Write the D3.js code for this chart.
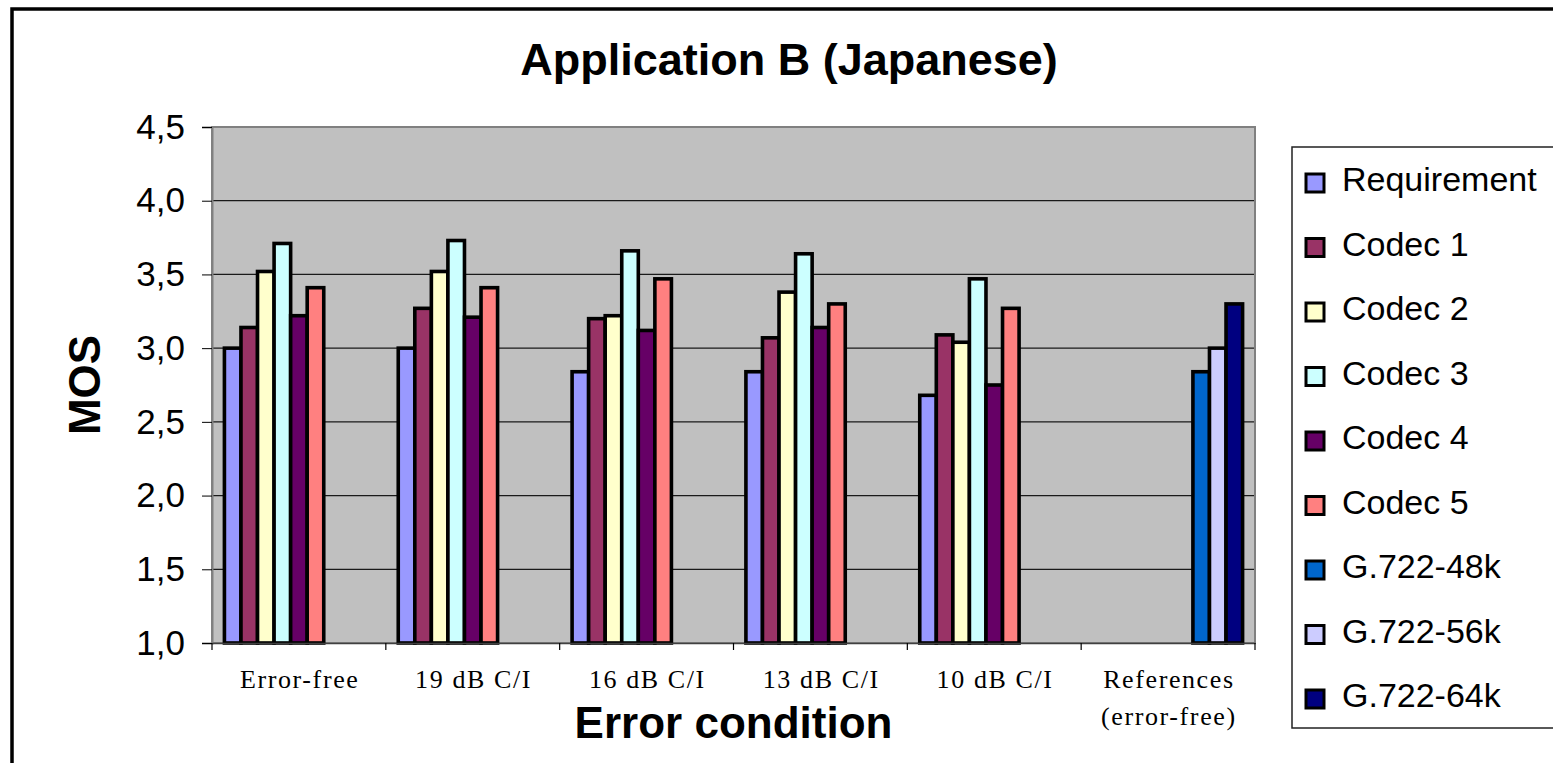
<!DOCTYPE html>
<html>
<head>
<meta charset="utf-8">
<script src="https://cdn.jsdelivr.net/npm/d3@7"></script>
<style>
  html, body { margin: 0; padding: 0; background: #fff; }
  svg { display: block; }
</style>
</head>
<body>
<svg id="chart" width="1553" height="763"></svg>
<script>
// ---- data ----
const categories = ["Error-free", "19 dB C/I", "16 dB C/I", "13 dB C/I", "10 dB C/I", "References\n(error-free)"];
const seriesNames = ["Requirement", "Codec 1", "Codec 2", "Codec 3", "Codec 4", "Codec 5", "G.722-48k", "G.722-56k", "G.722-64k"];
const requirement = [3.00, 3.00, 2.84, 2.84, 2.68, null];
const codec1      = [3.14, 3.27, 3.20, 3.07, 3.09, null];
const codec2      = [3.52, 3.52, 3.22, 3.38, 3.04, null];
const codec3      = [3.71, 3.73, 3.66, 3.64, 3.47, null];
const codec4      = [3.22, 3.21, 3.12, 3.14, 2.75, null];
const codec5      = [3.41, 3.41, 3.47, 3.30, 3.27, null];
const g722_48k    = [null, null, null, null, null, 2.84];
const g722_56k    = [null, null, null, null, null, 3.00];
const g722_64k    = [null, null, null, null, null, 3.30];
const yTicks = [1.0, 1.5, 2.0, 2.5, 3.0, 3.5, 4.0, 4.5];
const seriesColors = ["#9999FF", "#993366", "#FFFFCC", "#CCFFFF", "#660066", "#FF8080", "#0066CC", "#CCCCFF", "#000080"];

const seriesValues = [requirement, codec1, codec2, codec3, codec4, codec5, g722_48k, g722_56k, g722_64k];

// ---- layout ----
const svg = d3.select("#chart");
const plot = { left: 212, top: 127, right: 1255, bottom: 643 };

// outer chart frame (extends beyond the view)
svg.append("rect")
  .attr("x", 12).attr("y", 9).attr("width", 1700).attr("height", 900)
  .attr("fill", "#fff").attr("stroke", "#000").attr("stroke-width", 3.5);

const x0 = d3.scaleBand().domain(categories)
  .range([plot.left, plot.right])
  .paddingInner(1.5 / 10.5).paddingOuter(0.75 / 10.5);
const x1 = d3.scaleBand().domain(seriesNames).range([0, x0.bandwidth()]);
const y = d3.scaleLinear().domain([1.0, 4.5]).range([plot.bottom, plot.top]);
const color = d3.scaleOrdinal().domain(seriesNames).range(seriesColors);

// plot background
svg.append("rect")
  .attr("x", plot.left).attr("y", plot.top)
  .attr("width", plot.right - plot.left).attr("height", plot.bottom - plot.top)
  .attr("fill", "#C0C0C0");

// gridlines
svg.append("g").selectAll("line")
  .data(yTicks.filter(t => t > 1.0 && t < 4.5))
  .join("line")
  .attr("x1", plot.left).attr("x2", plot.right)
  .attr("y1", d => y(d)).attr("y2", d => y(d))
  .attr("stroke", "#1a1a1a").attr("stroke-width", 1.2);

// plot border
svg.append("rect")
  .attr("x", plot.left).attr("y", plot.top)
  .attr("width", plot.right - plot.left).attr("height", plot.bottom - plot.top)
  .attr("fill", "none").attr("stroke", "#808080").attr("stroke-width", 2);

// bars
const groups = svg.append("g").selectAll("g")
  .data(categories)
  .join("g")
  .attr("transform", c => `translate(${x0(c)},0)`);

groups.selectAll("rect")
  .data((c, ci) => seriesNames.map((s, si) => ({ s, v: seriesValues[si][ci] })).filter(d => d.v != null))
  .join("rect")
  .attr("x", d => x1(d.s))
  .attr("width", x1.bandwidth())
  .attr("y", d => y(d.v))
  .attr("height", d => y(1.0) - y(d.v))
  .attr("fill", d => color(d.s))
  .attr("stroke", "#000").attr("stroke-width", 3.6)
  .attr("stroke-linejoin", "miter");

// y axis
const yAxis = svg.append("g")
  .attr("transform", `translate(${plot.left},0)`)
  .call(d3.axisLeft(y).tickValues(yTicks).tickSize(10).tickPadding(17)
    .tickFormat(d => d.toFixed(1).replace(".", ",")));
yAxis.select(".domain").attr("stroke", "#808080").attr("stroke-width", 2);
yAxis.selectAll(".tick line").attr("stroke", "#000");
yAxis.selectAll(".tick text")
  .attr("font-family", "Liberation Sans, Arial, sans-serif")
  .attr("font-size", 35).attr("fill", "#000");

// x axis (labels centered, ticks at category boundaries)
const xAxis = svg.append("g")
  .attr("transform", `translate(0,${plot.bottom})`)
  .call(d3.axisBottom(x0).tickSize(0).tickPadding(0).tickFormat(""));
xAxis.select(".domain").attr("stroke", "#404040").attr("stroke-width", 1.5);
xAxis.selectAll(".tick").each(function(c) {
  const lines = c.split("\n");
  const t = d3.select(this).append("text")
    .attr("font-family", "Liberation Serif, Times New Roman, serif")
    .attr("font-size", 26).attr("fill", "#000")
    .attr("letter-spacing", 1.6)
    .attr("text-anchor", "middle");
  lines.forEach((ln, i) => {
    t.append("tspan").attr("x", 0.8).attr("y", 45 + i * 37).text(ln);
  });
});
svg.append("g").selectAll("line")
  .data(d3.range(categories.length + 1))
  .join("line")
  .attr("x1", i => plot.left + i * x0.step())
  .attr("x2", i => plot.left + i * x0.step())
  .attr("y1", plot.bottom).attr("y2", plot.bottom + 7)
  .attr("stroke", "#000").attr("stroke-width", 1.2);

// titles
svg.append("text")
  .attr("x", 789).attr("y", 75)
  .attr("text-anchor", "middle")
  .attr("font-family", "Liberation Sans, Arial, sans-serif")
  .attr("font-weight", "bold").attr("font-size", 45)
  .text("Application B (Japanese)");

svg.append("text")
  .attr("x", (plot.left + plot.right) / 2).attr("y", 738)
  .attr("text-anchor", "middle")
  .attr("font-family", "Liberation Sans, Arial, sans-serif")
  .attr("font-weight", "bold").attr("font-size", 44)
  .text("Error condition");

svg.append("text")
  .attr("transform", `translate(100,${(plot.top + plot.bottom) / 2}) rotate(-90)`)
  .attr("text-anchor", "middle")
  .attr("font-family", "Liberation Sans, Arial, sans-serif")
  .attr("font-weight", "bold").attr("font-size", 44)
  .text("MOS");

// legend
const legend = svg.append("g");
legend.append("rect")
  .attr("x", 1292).attr("y", 147).attr("width", 400).attr("height", 581)
  .attr("fill", "#fff").attr("stroke", "#222").attr("stroke-width", 1.5);
const items = legend.selectAll("g.item")
  .data(seriesNames)
  .join("g").attr("class", "item")
  .attr("transform", (d, i) => `translate(0,${191 + i * 64.5})`);
items.append("rect")
  .attr("x", 1306).attr("y", -17).attr("width", 18).attr("height", 18)
  .attr("fill", d => color(d)).attr("stroke", "#000").attr("stroke-width", 3);
items.append("text")
  .attr("x", 1342).attr("y", 0)
  .attr("font-family", "Liberation Sans, Arial, sans-serif")
  .attr("font-size", 34).attr("fill", "#000")
  .text(d => d);
</script>
</body>
</html>
